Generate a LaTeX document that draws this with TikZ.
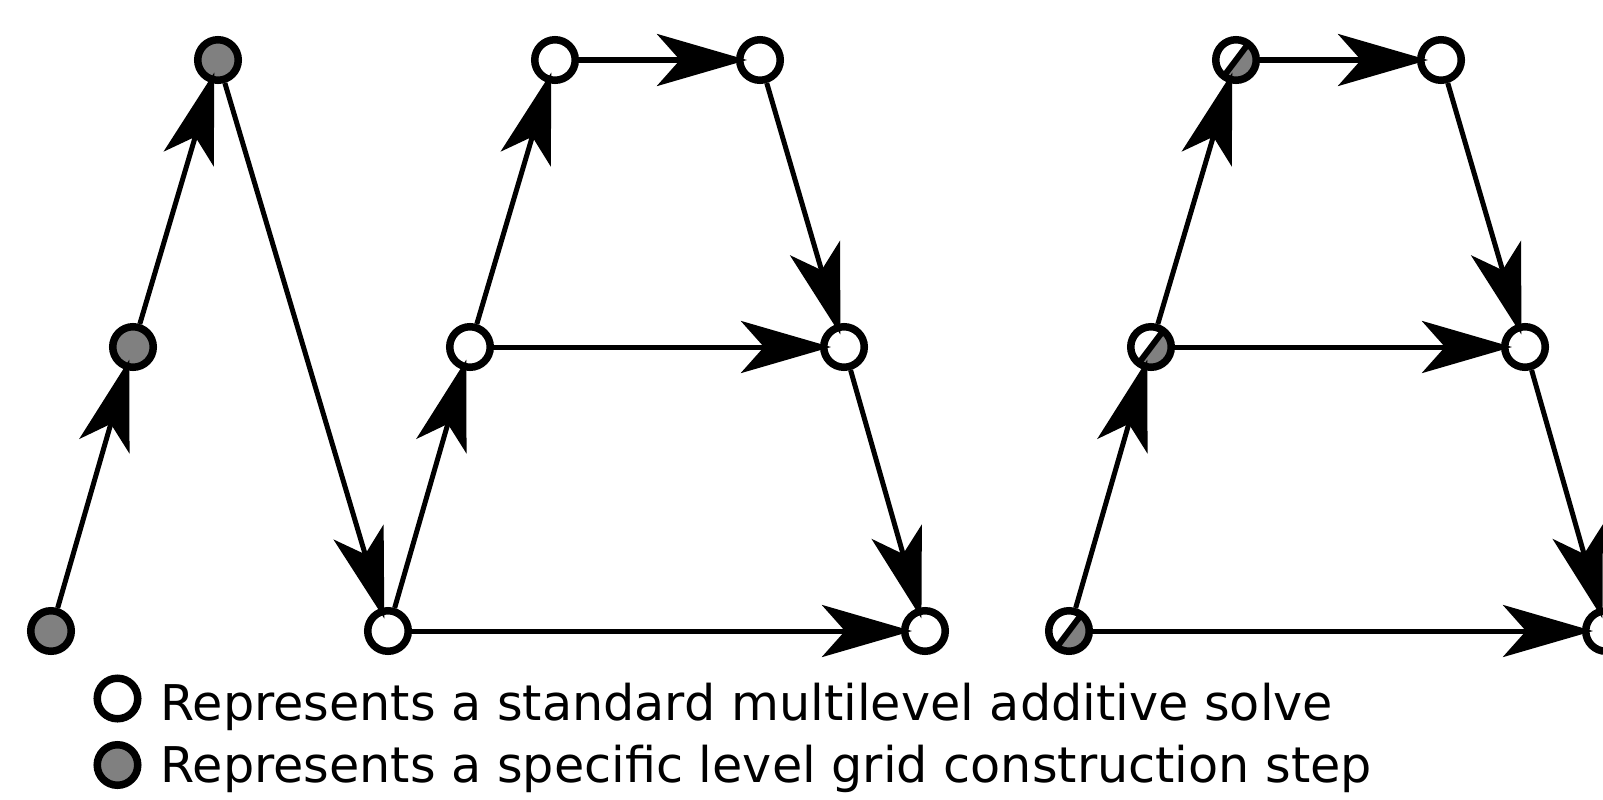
\documentclass[tikz,border=0pt]{standalone}
\usepackage{fontspec}
\setmainfont{DejaVu Sans}
\usetikzlibrary{arrows.meta}

\begin{document}
\begin{tikzpicture}[
  x=0.01cm, y=-0.01cm,
  >={Stealth[length=0.9cm, width=0.52cm, inset=0.23cm]},
  solve/.style={circle, draw=black, fill=white, line width=0.075cm, minimum size=0.405cm, inner sep=0pt},
  build/.style={solve, fill=gray},
  mixed/.style={solve, path picture={
      \fill[gray] (path picture bounding box.center) ++(53:1cm) arc[start angle=53, end angle=-127, radius=1cm] -- cycle;
      \draw[line width=0.06cm] (path picture bounding box.center) ++(53:1cm) -- ++(233:2cm);}},
  arr/.style={->, line width=0.05cm, shorten >=-0.11cm},
  lbl/.style={anchor=base west, inner sep=0pt, font=\fontsize{14pt}{17pt}\selectfont},
]
\useasboundingbox (0,0) rectangle (1603,800);
\clip (0,0) rectangle (1603,800);

% grid construction only
\node[build] (g1) at (51, 631) {};
\node[build] (g2) at (133, 347) {};
\node[build] (g3) at (218, 60) {};

% standard solve
\node[solve] (m1) at (388, 631) {};
\node[solve] (m2) at (470, 347) {};
\node[solve] (m3) at (555, 60) {};
\node[solve] (m4) at (760, 60) {};
\node[solve] (m5) at (844, 347) {};
\node[solve] (m6) at (925, 631) {};

% combined
\node[mixed] (r1) at (1069, 631) {};
\node[mixed] (r2) at (1151, 347) {};
\node[mixed] (r3) at (1236, 60) {};
\node[solve] (r4) at (1441, 60) {};
\node[solve] (r5) at (1525, 347) {};
\node[solve] (r6) at (1606, 631) {};

\draw[arr] (g1) -- (g2);
\draw[arr] (g2) -- (g3);
\draw[arr] (g3) -- (m1);

\draw[arr] (m1) -- (m2);
\draw[arr] (m2) -- (m3);
\draw[arr] (m3) -- (m4);
\draw[arr] (m4) -- (m5);
\draw[arr] (m5) -- (m6);
\draw[arr] (m2) -- (m5);
\draw[arr] (m1) -- (m6);

\draw[arr] (r1) -- (r2);
\draw[arr] (r2) -- (r3);
\draw[arr] (r3) -- (r4);
\draw[arr] (r4) -- (r5);
\draw[arr] (r5) -- (r6);
\draw[arr] (r2) -- (r5);
\draw[arr] (r1) -- (r6);

% legend
\node[solve] (key1) at (117.5, 698.5) {};
\node[build] (key2) at (117.5, 765) {};
\node[lbl] (txt1) at (160, 720) {Represents a standard multilevel additive solve};
\node[lbl] (txt2) at (160, 782) {Represents a specific level grid construction step};

\end{tikzpicture}
\end{document}
